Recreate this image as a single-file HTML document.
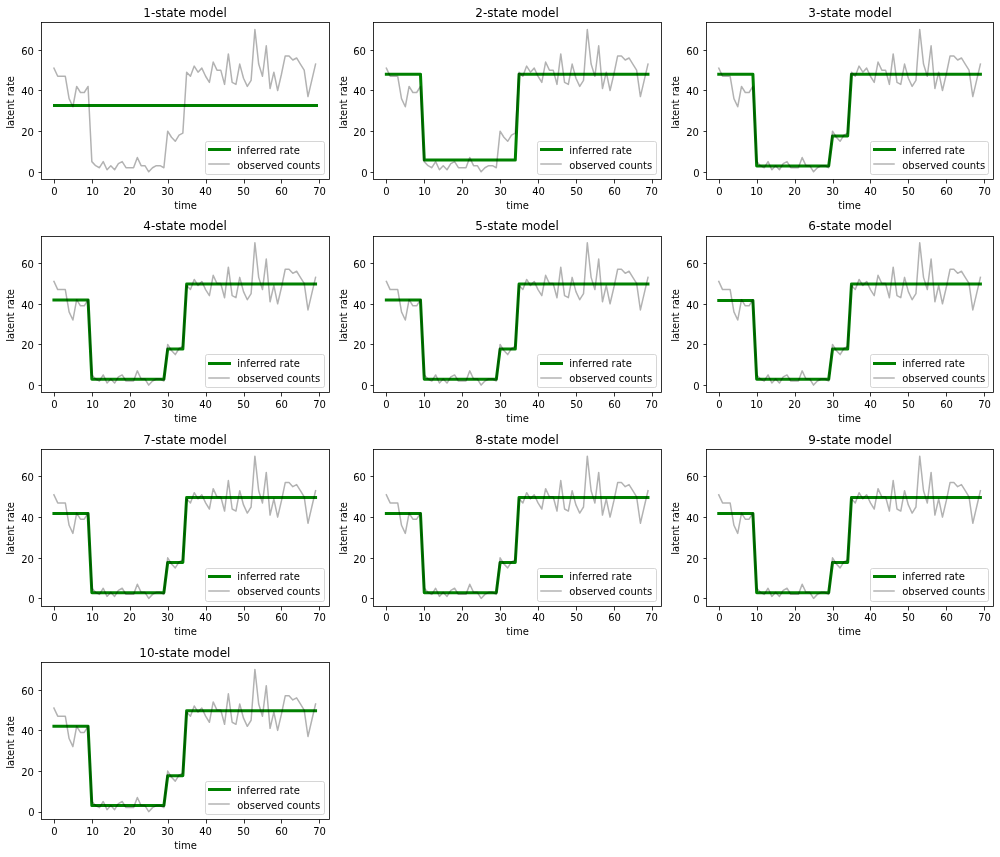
<!DOCTYPE html>
<html lang="en">
<head>
<meta charset="utf-8">
<title>Inferred latent rate for 1- to 10-state models</title>
<style>
html,body{margin:0;padding:0;background:#fff;}
body{width:1000px;height:857px;overflow:hidden;}
svg{display:block;font-family:"DejaVu Sans","Liberation Sans",sans-serif;will-change:transform;}
text{fill:#000;font-size:10px;}
.ttl{font-size:12px;}
.sp{fill:none;stroke:#000;stroke-width:0.8;stroke-linejoin:miter;}
.tk{fill:none;stroke:#000;stroke-width:0.8;}
.inf{fill:none;stroke:#008000;stroke-width:3;stroke-linejoin:round;stroke-linecap:square;}
.obs{fill:none;stroke:#000;stroke-opacity:0.3;stroke-width:1.5;stroke-linejoin:round;stroke-linecap:square;}
.lgf{fill:#fff;fill-opacity:0.8;stroke:#ccc;stroke-opacity:0.8;stroke-width:1;}
</style>
</head>
<body>
<svg width="1000" height="857" viewBox="0 0 1000 857">
<rect x="0" y="0" width="1000" height="857" fill="#fff"/>
<g id="ax1">
<text class="ttl" x="143.25" y="17">1-state model</text>
<path class="inf" d="M54.5 105.5H316.5"/>
<polyline class="obs" points="53.93,68.13 57.72,76.26 61.52,76.26 65.31,76.26 69.1,98.62 72.89,106.75 76.68,86.42 80.47,92.52 84.27,92.52 88.06,86.42 91.85,161.62 95.64,165.69 99.43,167.72 103.23,161.62 107.02,169.75 110.81,165.69 114.6,169.75 118.39,163.66 122.18,161.62 125.98,167.72 129.77,167.72 133.56,167.72 137.35,157.56 141.14,165.69 144.94,165.69 148.73,171.79 152.52,167.72 156.31,165.69 160.1,165.69 163.89,167.72 167.69,131.14 171.48,137.23 175.27,141.3 179.06,135.2 182.85,133.17 186.65,72.2 190.44,76.26 194.23,66.1 198.02,72.2 201.81,68.13 205.61,76.26 209.4,82.36 213.19,62.03 216.98,70.16 220.77,70.16 224.56,84.39 228.36,53.9 232.15,82.36 235.94,84.39 239.73,64.07 243.52,78.29 247.32,86.42 251.11,80.33 254.9,29.51 258.69,64.07 262.48,76.26 266.27,45.77 270.07,88.46 273.86,72.2 277.65,90.49 281.44,74.23 285.23,55.94 289.03,55.94 292.82,60 296.61,57.97 300.4,64.07 304.19,70.16 307.98,96.59 311.78,80.33 315.57,64.07"/>
<path class="tk" d="M54.5 179.5v4M92.5 179.5v4M130.5 179.5v4M168.5 179.5v4M206.5 179.5v4M244.5 179.5v4M281.5 179.5v4M319.5 179.5v4M41.5 172.5h-3M41.5 131.5h-3M41.5 90.5h-3M41.5 50.5h-3"/>
<rect class="sp" x="41.5" y="22.5" width="288" height="157"/>
<text x="51.25" y="195">0</text>
<text x="86.25" y="195">10</text>
<text x="123.25" y="195">20</text>
<text x="161.25" y="195">30</text>
<text x="199.25" y="195">40</text>
<text x="237.25" y="195">50</text>
<text x="275.25" y="195">60</text>
<text x="313.25" y="195">70</text>
<text x="28.25" y="177">0</text>
<text x="21.25" y="136">20</text>
<text x="21.25" y="95">40</text>
<text x="21.25" y="55">60</text>
<text x="174.25" y="209">time</text>
<text transform="translate(14.35 128.75) rotate(-90)">latent rate</text>
<rect class="lgf" x="205.5" y="141.5" width="119" height="33" rx="2" ry="2"/>
<path class="inf" d="M209.5 149.5H229.5"/>
<path class="obs" d="M209 164H229"/>
<text x="237.25" y="154">inferred rate</text>
<text x="237.25" y="169">observed counts</text>
</g>
<g id="ax2">
<text class="ttl" x="475.25" y="17">2-state model</text>
<polyline class="inf" points="386.35,74.15 390.14,74.15 393.93,74.15 397.72,74.15 401.51,74.15 405.31,74.15 409.1,74.15 412.89,74.15 416.68,74.15 420.47,74.15 424.27,160.1 428.06,160.1 431.85,160.1 435.64,160.1 439.43,160.1 443.22,160.1 447.02,160.1 450.81,160.1 454.6,160.1 458.39,160.1 462.18,160.1 465.98,160.1 469.77,160.1 473.56,160.1 477.35,160.1 481.14,160.1 484.93,160.1 488.73,160.1 492.52,160.1 496.31,160.1 500.1,160.1 503.89,160.1 507.69,160.1 511.48,160.1 515.27,160.1 519.06,74.15 522.85,74.15 526.64,74.15 530.44,74.15 534.23,74.15 538.02,74.15 541.81,74.15 545.6,74.15 549.4,74.15 553.19,74.15 556.98,74.15 560.77,74.15 564.56,74.15 568.35,74.15 572.15,74.15 575.94,74.15 579.73,74.15 583.52,74.15 587.31,74.15 591.11,74.15 594.9,74.15 598.69,74.15 602.48,74.15 606.27,74.15 610.06,74.15 613.86,74.15 617.65,74.15 621.44,74.15 625.23,74.15 629.02,74.15 632.82,74.15 636.61,74.15 640.4,74.15 644.19,74.15 647.98,74.15"/>
<polyline class="obs" points="386.35,68.13 390.14,76.26 393.93,76.26 397.72,76.26 401.51,98.62 405.31,106.75 409.1,86.42 412.89,92.52 416.68,92.52 420.47,86.42 424.27,161.62 428.06,165.69 431.85,167.72 435.64,161.62 439.43,169.75 443.22,165.69 447.02,169.75 450.81,163.66 454.6,161.62 458.39,167.72 462.18,167.72 465.98,167.72 469.77,157.56 473.56,165.69 477.35,165.69 481.14,171.79 484.93,167.72 488.73,165.69 492.52,165.69 496.31,167.72 500.1,131.14 503.89,137.23 507.69,141.3 511.48,135.2 515.27,133.17 519.06,72.2 522.85,76.26 526.64,66.1 530.44,72.2 534.23,68.13 538.02,76.26 541.81,82.36 545.6,62.03 549.4,70.16 553.19,70.16 556.98,84.39 560.77,53.9 564.56,82.36 568.35,84.39 572.15,64.07 575.94,78.29 579.73,86.42 583.52,80.33 587.31,29.51 591.11,64.07 594.9,76.26 598.69,45.77 602.48,88.46 606.27,72.2 610.06,90.49 613.86,74.23 617.65,55.94 621.44,55.94 625.23,60 629.02,57.97 632.82,64.07 636.61,70.16 640.4,96.59 644.19,80.33 647.98,64.07"/>
<path class="tk" d="M386.5 179.5v4M424.5 179.5v4M462.5 179.5v4M500.5 179.5v4M538.5 179.5v4M576.5 179.5v4M614.5 179.5v4M652.5 179.5v4M373.5 172.5h-3M373.5 131.5h-3M373.5 90.5h-3M373.5 50.5h-3"/>
<rect class="sp" x="373.5" y="22.5" width="288" height="157"/>
<text x="383.25" y="195">0</text>
<text x="418.25" y="195">10</text>
<text x="456.25" y="195">20</text>
<text x="494.25" y="195">30</text>
<text x="532.25" y="195">40</text>
<text x="570.25" y="195">50</text>
<text x="608.25" y="195">60</text>
<text x="645.25" y="195">70</text>
<text x="361.25" y="177">0</text>
<text x="353.25" y="136">20</text>
<text x="353.25" y="95">40</text>
<text x="353.25" y="55">60</text>
<text x="506.25" y="209">time</text>
<text transform="translate(346.76 128.75) rotate(-90)">latent rate</text>
<rect class="lgf" x="537.5" y="141.5" width="119" height="33" rx="2" ry="2"/>
<path class="inf" d="M541.5 149.5H561.5"/>
<path class="obs" d="M541 164H561"/>
<text x="569.25" y="154">inferred rate</text>
<text x="569.25" y="169">observed counts</text>
</g>
<g id="ax3">
<text class="ttl" x="808.25" y="17">3-state model</text>
<polyline class="inf" points="718.76,74.15 722.55,74.15 726.35,74.15 730.14,74.15 733.93,74.15 737.72,74.15 741.51,74.15 745.3,74.15 749.1,74.15 752.89,74.15 756.68,165.89 760.47,165.89 764.26,165.89 768.06,165.89 771.85,165.89 775.64,165.89 779.43,165.89 783.22,165.89 787.01,165.89 790.81,165.89 794.6,165.89 798.39,165.89 802.18,165.89 805.97,165.89 809.77,165.89 813.56,165.89 817.35,165.89 821.14,165.89 824.93,165.89 828.72,165.89 832.52,136.01 836.31,136.01 840.1,136.01 843.89,136.01 847.68,136.01 851.48,74.15 855.27,74.15 859.06,74.15 862.85,74.15 866.64,74.15 870.44,74.15 874.23,74.15 878.02,74.15 881.81,74.15 885.6,74.15 889.39,74.15 893.19,74.15 896.98,74.15 900.77,74.15 904.56,74.15 908.35,74.15 912.15,74.15 915.94,74.15 919.73,74.15 923.52,74.15 927.31,74.15 931.1,74.15 934.9,74.15 938.69,74.15 942.48,74.15 946.27,74.15 950.06,74.15 953.86,74.15 957.65,74.15 961.44,74.15 965.23,74.15 969.02,74.15 972.81,74.15 976.61,74.15 980.4,74.15"/>
<polyline class="obs" points="718.76,68.13 722.55,76.26 726.35,76.26 730.14,76.26 733.93,98.62 737.72,106.75 741.51,86.42 745.3,92.52 749.1,92.52 752.89,86.42 756.68,161.62 760.47,165.69 764.26,167.72 768.06,161.62 771.85,169.75 775.64,165.69 779.43,169.75 783.22,163.66 787.01,161.62 790.81,167.72 794.6,167.72 798.39,167.72 802.18,157.56 805.97,165.69 809.77,165.69 813.56,171.79 817.35,167.72 821.14,165.69 824.93,165.69 828.72,167.72 832.52,131.14 836.31,137.23 840.1,141.3 843.89,135.2 847.68,133.17 851.48,72.2 855.27,76.26 859.06,66.1 862.85,72.2 866.64,68.13 870.44,76.26 874.23,82.36 878.02,62.03 881.81,70.16 885.6,70.16 889.39,84.39 893.19,53.9 896.98,82.36 900.77,84.39 904.56,64.07 908.35,78.29 912.15,86.42 915.94,80.33 919.73,29.51 923.52,64.07 927.31,76.26 931.1,45.77 934.9,88.46 938.69,72.2 942.48,90.49 946.27,74.23 950.06,55.94 953.86,55.94 957.65,60 961.44,57.97 965.23,64.07 969.02,70.16 972.81,96.59 976.61,80.33 980.4,64.07"/>
<path class="tk" d="M719.5 179.5v4M757.5 179.5v4M795.5 179.5v4M833.5 179.5v4M870.5 179.5v4M908.5 179.5v4M946.5 179.5v4M984.5 179.5v4M706.5 172.5h-3M706.5 131.5h-3M706.5 90.5h-3M706.5 50.5h-3"/>
<rect class="sp" x="706.5" y="22.5" width="287" height="157"/>
<text x="716.25" y="195">0</text>
<text x="750.25" y="195">10</text>
<text x="788.25" y="195">20</text>
<text x="826.25" y="195">30</text>
<text x="864.25" y="195">40</text>
<text x="902.25" y="195">50</text>
<text x="940.25" y="195">60</text>
<text x="978.25" y="195">70</text>
<text x="693.25" y="177">0</text>
<text x="686.25" y="136">20</text>
<text x="686.25" y="95">40</text>
<text x="686.25" y="55">60</text>
<text x="838.25" y="209">time</text>
<text transform="translate(679.17 128.75) rotate(-90)">latent rate</text>
<rect class="lgf" x="870.5" y="141.5" width="118" height="33" rx="2" ry="2"/>
<path class="inf" d="M874.5 149.5H894.5"/>
<path class="obs" d="M874 164H894"/>
<text x="902.25" y="154">inferred rate</text>
<text x="902.25" y="169">observed counts</text>
</g>
<g id="ax4">
<text class="ttl" x="143.25" y="230">4-state model</text>
<polyline class="inf" points="53.93,299.93 57.72,299.93 61.52,299.93 65.31,299.93 69.1,299.93 72.89,299.93 76.68,299.93 80.47,299.93 84.27,299.93 88.06,299.93 91.85,379.29 95.64,379.29 99.43,379.29 103.23,379.29 107.02,379.29 110.81,379.29 114.6,379.29 118.39,379.29 122.18,379.29 125.98,379.29 129.77,379.29 133.56,379.29 137.35,379.29 141.14,379.29 144.94,379.29 148.73,379.29 152.52,379.29 156.31,379.29 160.1,379.29 163.89,379.29 167.69,349.11 171.48,349.11 175.27,349.11 179.06,349.11 182.85,349.11 186.65,284.07 190.44,284.07 194.23,284.07 198.02,284.07 201.81,284.07 205.61,284.07 209.4,284.07 213.19,284.07 216.98,284.07 220.77,284.07 224.56,284.07 228.36,284.07 232.15,284.07 235.94,284.07 239.73,284.07 243.52,284.07 247.32,284.07 251.11,284.07 254.9,284.07 258.69,284.07 262.48,284.07 266.27,284.07 270.07,284.07 273.86,284.07 277.65,284.07 281.44,284.07 285.23,284.07 289.03,284.07 292.82,284.07 296.61,284.07 300.4,284.07 304.19,284.07 307.98,284.07 311.78,284.07 315.57,284.07"/>
<polyline class="obs" points="53.93,281.43 57.72,289.56 61.52,289.56 65.31,289.56 69.1,311.92 72.89,320.05 76.68,299.72 80.47,305.82 84.27,305.82 88.06,299.72 91.85,374.92 95.64,378.99 99.43,381.02 103.23,374.92 107.02,383.05 110.81,378.99 114.6,383.05 118.39,376.96 122.18,374.92 125.98,381.02 129.77,381.02 133.56,381.02 137.35,370.86 141.14,378.99 144.94,378.99 148.73,385.09 152.52,381.02 156.31,378.99 160.1,378.99 163.89,381.02 167.69,344.44 171.48,350.53 175.27,354.6 179.06,348.5 182.85,346.47 186.65,285.5 190.44,289.56 194.23,279.4 198.02,285.5 201.81,281.43 205.61,289.56 209.4,295.66 213.19,275.33 216.98,283.46 220.77,283.46 224.56,297.69 228.36,267.2 232.15,295.66 235.94,297.69 239.73,277.37 243.52,291.59 247.32,299.72 251.11,293.63 254.9,242.81 258.69,277.37 262.48,289.56 266.27,259.07 270.07,301.76 273.86,285.5 277.65,303.79 281.44,287.53 285.23,269.24 289.03,269.24 292.82,273.3 296.61,271.27 300.4,277.37 304.19,283.46 307.98,309.89 311.78,293.63 315.57,277.37"/>
<path class="tk" d="M54.5 392.5v4M92.5 392.5v4M130.5 392.5v4M168.5 392.5v4M206.5 392.5v4M244.5 392.5v4M281.5 392.5v4M319.5 392.5v4M41.5 385.5h-3M41.5 344.5h-3M41.5 304.5h-3M41.5 263.5h-3"/>
<rect class="sp" x="41.5" y="236.5" width="288" height="156"/>
<text x="51.25" y="408">0</text>
<text x="86.25" y="408">10</text>
<text x="123.25" y="408">20</text>
<text x="161.25" y="408">30</text>
<text x="199.25" y="408">40</text>
<text x="237.25" y="408">50</text>
<text x="275.25" y="408">60</text>
<text x="313.25" y="408">70</text>
<text x="28.25" y="390">0</text>
<text x="21.25" y="349">20</text>
<text x="21.25" y="309">40</text>
<text x="21.25" y="268">60</text>
<text x="174.25" y="422">time</text>
<text transform="translate(14.35 341.75) rotate(-90)">latent rate</text>
<rect class="lgf" x="205.5" y="354.5" width="119" height="33" rx="2" ry="2"/>
<path class="inf" d="M209.5 363.5H229.5"/>
<path class="obs" d="M209 378H229"/>
<text x="237.25" y="367">inferred rate</text>
<text x="237.25" y="382">observed counts</text>
</g>
<g id="ax5">
<text class="ttl" x="475.25" y="230">5-state model</text>
<polyline class="inf" points="386.35,299.93 390.14,299.93 393.93,299.93 397.72,299.93 401.51,299.93 405.31,299.93 409.1,299.93 412.89,299.93 416.68,299.93 420.47,299.93 424.27,379.29 428.06,379.29 431.85,379.29 435.64,379.29 439.43,379.29 443.22,379.29 447.02,379.29 450.81,379.29 454.6,379.29 458.39,379.29 462.18,379.29 465.98,379.29 469.77,379.29 473.56,379.29 477.35,379.29 481.14,379.29 484.93,379.29 488.73,379.29 492.52,379.29 496.31,379.29 500.1,349.11 503.89,349.11 507.69,349.11 511.48,349.11 515.27,349.11 519.06,284.07 522.85,284.07 526.64,284.07 530.44,284.07 534.23,284.07 538.02,284.07 541.81,284.07 545.6,284.07 549.4,284.07 553.19,284.07 556.98,284.07 560.77,284.07 564.56,284.07 568.35,284.07 572.15,284.07 575.94,284.07 579.73,284.07 583.52,284.07 587.31,284.07 591.11,284.07 594.9,284.07 598.69,284.07 602.48,284.07 606.27,284.07 610.06,284.07 613.86,284.07 617.65,284.07 621.44,284.07 625.23,284.07 629.02,284.07 632.82,284.07 636.61,284.07 640.4,284.07 644.19,284.07 647.98,284.07"/>
<polyline class="obs" points="386.35,281.43 390.14,289.56 393.93,289.56 397.72,289.56 401.51,311.92 405.31,320.05 409.1,299.72 412.89,305.82 416.68,305.82 420.47,299.72 424.27,374.92 428.06,378.99 431.85,381.02 435.64,374.92 439.43,383.05 443.22,378.99 447.02,383.05 450.81,376.96 454.6,374.92 458.39,381.02 462.18,381.02 465.98,381.02 469.77,370.86 473.56,378.99 477.35,378.99 481.14,385.09 484.93,381.02 488.73,378.99 492.52,378.99 496.31,381.02 500.1,344.44 503.89,350.53 507.69,354.6 511.48,348.5 515.27,346.47 519.06,285.5 522.85,289.56 526.64,279.4 530.44,285.5 534.23,281.43 538.02,289.56 541.81,295.66 545.6,275.33 549.4,283.46 553.19,283.46 556.98,297.69 560.77,267.2 564.56,295.66 568.35,297.69 572.15,277.37 575.94,291.59 579.73,299.72 583.52,293.63 587.31,242.81 591.11,277.37 594.9,289.56 598.69,259.07 602.48,301.76 606.27,285.5 610.06,303.79 613.86,287.53 617.65,269.24 621.44,269.24 625.23,273.3 629.02,271.27 632.82,277.37 636.61,283.46 640.4,309.89 644.19,293.63 647.98,277.37"/>
<path class="tk" d="M386.5 392.5v4M424.5 392.5v4M462.5 392.5v4M500.5 392.5v4M538.5 392.5v4M576.5 392.5v4M614.5 392.5v4M652.5 392.5v4M373.5 385.5h-3M373.5 344.5h-3M373.5 304.5h-3M373.5 263.5h-3"/>
<rect class="sp" x="373.5" y="236.5" width="288" height="156"/>
<text x="383.25" y="408">0</text>
<text x="418.25" y="408">10</text>
<text x="456.25" y="408">20</text>
<text x="494.25" y="408">30</text>
<text x="532.25" y="408">40</text>
<text x="570.25" y="408">50</text>
<text x="608.25" y="408">60</text>
<text x="645.25" y="408">70</text>
<text x="361.25" y="390">0</text>
<text x="353.25" y="349">20</text>
<text x="353.25" y="309">40</text>
<text x="353.25" y="268">60</text>
<text x="506.25" y="422">time</text>
<text transform="translate(346.76 341.75) rotate(-90)">latent rate</text>
<rect class="lgf" x="537.5" y="354.5" width="119" height="33" rx="2" ry="2"/>
<path class="inf" d="M541.5 363.5H561.5"/>
<path class="obs" d="M541 378H561"/>
<text x="569.25" y="367">inferred rate</text>
<text x="569.25" y="382">observed counts</text>
</g>
<g id="ax6">
<text class="ttl" x="808.25" y="230">6-state model</text>
<polyline class="inf" points="718.76,300.43 722.55,300.43 726.35,300.43 730.14,300.43 733.93,300.43 737.72,300.43 741.51,300.43 745.3,300.43 749.1,300.43 752.89,300.43 756.68,379.29 760.47,379.29 764.26,379.29 768.06,379.29 771.85,379.29 775.64,379.29 779.43,379.29 783.22,379.29 787.01,379.29 790.81,379.29 794.6,379.29 798.39,379.29 802.18,379.29 805.97,379.29 809.77,379.29 813.56,379.29 817.35,379.29 821.14,379.29 824.93,379.29 828.72,379.29 832.52,349.11 836.31,349.11 840.1,349.11 843.89,349.11 847.68,349.11 851.48,284.07 855.27,284.07 859.06,284.07 862.85,284.07 866.64,284.07 870.44,284.07 874.23,284.07 878.02,284.07 881.81,284.07 885.6,284.07 889.39,284.07 893.19,284.07 896.98,284.07 900.77,284.07 904.56,284.07 908.35,284.07 912.15,284.07 915.94,284.07 919.73,284.07 923.52,284.07 927.31,284.07 931.1,284.07 934.9,284.07 938.69,284.07 942.48,284.07 946.27,284.07 950.06,284.07 953.86,284.07 957.65,284.07 961.44,284.07 965.23,284.07 969.02,284.07 972.81,284.07 976.61,284.07 980.4,284.07"/>
<polyline class="obs" points="718.76,281.43 722.55,289.56 726.35,289.56 730.14,289.56 733.93,311.92 737.72,320.05 741.51,299.72 745.3,305.82 749.1,305.82 752.89,299.72 756.68,374.92 760.47,378.99 764.26,381.02 768.06,374.92 771.85,383.05 775.64,378.99 779.43,383.05 783.22,376.96 787.01,374.92 790.81,381.02 794.6,381.02 798.39,381.02 802.18,370.86 805.97,378.99 809.77,378.99 813.56,385.09 817.35,381.02 821.14,378.99 824.93,378.99 828.72,381.02 832.52,344.44 836.31,350.53 840.1,354.6 843.89,348.5 847.68,346.47 851.48,285.5 855.27,289.56 859.06,279.4 862.85,285.5 866.64,281.43 870.44,289.56 874.23,295.66 878.02,275.33 881.81,283.46 885.6,283.46 889.39,297.69 893.19,267.2 896.98,295.66 900.77,297.69 904.56,277.37 908.35,291.59 912.15,299.72 915.94,293.63 919.73,242.81 923.52,277.37 927.31,289.56 931.1,259.07 934.9,301.76 938.69,285.5 942.48,303.79 946.27,287.53 950.06,269.24 953.86,269.24 957.65,273.3 961.44,271.27 965.23,277.37 969.02,283.46 972.81,309.89 976.61,293.63 980.4,277.37"/>
<path class="tk" d="M719.5 392.5v4M757.5 392.5v4M795.5 392.5v4M833.5 392.5v4M870.5 392.5v4M908.5 392.5v4M946.5 392.5v4M984.5 392.5v4M706.5 385.5h-3M706.5 344.5h-3M706.5 304.5h-3M706.5 263.5h-3"/>
<rect class="sp" x="706.5" y="236.5" width="287" height="156"/>
<text x="716.25" y="408">0</text>
<text x="750.25" y="408">10</text>
<text x="788.25" y="408">20</text>
<text x="826.25" y="408">30</text>
<text x="864.25" y="408">40</text>
<text x="902.25" y="408">50</text>
<text x="940.25" y="408">60</text>
<text x="978.25" y="408">70</text>
<text x="693.25" y="390">0</text>
<text x="686.25" y="349">20</text>
<text x="686.25" y="309">40</text>
<text x="686.25" y="268">60</text>
<text x="838.25" y="422">time</text>
<text transform="translate(679.17 341.75) rotate(-90)">latent rate</text>
<rect class="lgf" x="870.5" y="354.5" width="118" height="33" rx="2" ry="2"/>
<path class="inf" d="M874.5 363.5H894.5"/>
<path class="obs" d="M874 378H894"/>
<text x="902.25" y="367">inferred rate</text>
<text x="902.25" y="382">observed counts</text>
</g>
<g id="ax7">
<text class="ttl" x="143.25" y="444">7-state model</text>
<polyline class="inf" points="53.93,513.58 57.72,513.58 61.52,513.58 65.31,513.58 69.1,513.58 72.89,513.58 76.68,513.58 80.47,513.58 84.27,513.58 88.06,513.58 91.85,592.64 95.64,592.64 99.43,592.64 103.23,592.64 107.02,592.64 110.81,592.64 114.6,592.64 118.39,592.64 122.18,592.64 125.98,592.64 129.77,592.64 133.56,592.64 137.35,592.64 141.14,592.64 144.94,592.64 148.73,592.64 152.52,592.64 156.31,592.64 160.1,592.64 163.89,592.64 167.69,562.46 171.48,562.46 175.27,562.46 179.06,562.46 182.85,562.46 186.65,497.42 190.44,497.42 194.23,497.42 198.02,497.42 201.81,497.42 205.61,497.42 209.4,497.42 213.19,497.42 216.98,497.42 220.77,497.42 224.56,497.42 228.36,497.42 232.15,497.42 235.94,497.42 239.73,497.42 243.52,497.42 247.32,497.42 251.11,497.42 254.9,497.42 258.69,497.42 262.48,497.42 266.27,497.42 270.07,497.42 273.86,497.42 277.65,497.42 281.44,497.42 285.23,497.42 289.03,497.42 292.82,497.42 296.61,497.42 300.4,497.42 304.19,497.42 307.98,497.42 311.78,497.42 315.57,497.42"/>
<polyline class="obs" points="53.93,494.78 57.72,502.91 61.52,502.91 65.31,502.91 69.1,525.27 72.89,533.4 76.68,513.07 80.47,519.17 84.27,519.17 88.06,513.07 91.85,588.27 95.64,592.34 99.43,594.37 103.23,588.27 107.02,596.4 110.81,592.34 114.6,596.4 118.39,590.31 122.18,588.27 125.98,594.37 129.77,594.37 133.56,594.37 137.35,584.21 141.14,592.34 144.94,592.34 148.73,598.44 152.52,594.37 156.31,592.34 160.1,592.34 163.89,594.37 167.69,557.79 171.48,563.88 175.27,567.95 179.06,561.85 182.85,559.82 186.65,498.85 190.44,502.91 194.23,492.75 198.02,498.85 201.81,494.78 205.61,502.91 209.4,509.01 213.19,488.68 216.98,496.81 220.77,496.81 224.56,511.04 228.36,480.55 232.15,509.01 235.94,511.04 239.73,490.72 243.52,504.94 247.32,513.07 251.11,506.98 254.9,456.16 258.69,490.72 262.48,502.91 266.27,472.42 270.07,515.11 273.86,498.85 277.65,517.14 281.44,500.88 285.23,482.59 289.03,482.59 292.82,486.65 296.61,484.62 300.4,490.72 304.19,496.81 307.98,523.24 311.78,506.98 315.57,490.72"/>
<path class="tk" d="M54.5 606.5v4M92.5 606.5v4M130.5 606.5v4M168.5 606.5v4M206.5 606.5v4M244.5 606.5v4M281.5 606.5v4M319.5 606.5v4M41.5 598.5h-3M41.5 558.5h-3M41.5 517.5h-3M41.5 476.5h-3"/>
<rect class="sp" x="41.5" y="449.5" width="288" height="157"/>
<text x="51.25" y="621">0</text>
<text x="86.25" y="621">10</text>
<text x="123.25" y="621">20</text>
<text x="161.25" y="621">30</text>
<text x="199.25" y="621">40</text>
<text x="237.25" y="621">50</text>
<text x="275.25" y="621">60</text>
<text x="313.25" y="621">70</text>
<text x="28.25" y="603">0</text>
<text x="21.25" y="563">20</text>
<text x="21.25" y="522">40</text>
<text x="21.25" y="481">60</text>
<text x="174.25" y="635">time</text>
<text transform="translate(14.35 554.75) rotate(-90)">latent rate</text>
<rect class="lgf" x="205.5" y="568.5" width="119" height="33" rx="2" ry="2"/>
<path class="inf" d="M209.5 576.5H229.5"/>
<path class="obs" d="M209 591H229"/>
<text x="237.25" y="580">inferred rate</text>
<text x="237.25" y="595">observed counts</text>
</g>
<g id="ax8">
<text class="ttl" x="475.25" y="444">8-state model</text>
<polyline class="inf" points="386.35,513.38 390.14,513.38 393.93,513.38 397.72,513.38 401.51,513.38 405.31,513.38 409.1,513.38 412.89,513.38 416.68,513.38 420.47,513.38 424.27,592.64 428.06,592.64 431.85,592.64 435.64,592.64 439.43,592.64 443.22,592.64 447.02,592.64 450.81,592.64 454.6,592.64 458.39,592.64 462.18,592.64 465.98,592.64 469.77,592.64 473.56,592.64 477.35,592.64 481.14,592.64 484.93,592.64 488.73,592.64 492.52,592.64 496.31,592.64 500.1,562.46 503.89,562.46 507.69,562.46 511.48,562.46 515.27,562.46 519.06,497.42 522.85,497.42 526.64,497.42 530.44,497.42 534.23,497.42 538.02,497.42 541.81,497.42 545.6,497.42 549.4,497.42 553.19,497.42 556.98,497.42 560.77,497.42 564.56,497.42 568.35,497.42 572.15,497.42 575.94,497.42 579.73,497.42 583.52,497.42 587.31,497.42 591.11,497.42 594.9,497.42 598.69,497.42 602.48,497.42 606.27,497.42 610.06,497.42 613.86,497.42 617.65,497.42 621.44,497.42 625.23,497.42 629.02,497.42 632.82,497.42 636.61,497.42 640.4,497.42 644.19,497.42 647.98,497.42"/>
<polyline class="obs" points="386.35,494.78 390.14,502.91 393.93,502.91 397.72,502.91 401.51,525.27 405.31,533.4 409.1,513.07 412.89,519.17 416.68,519.17 420.47,513.07 424.27,588.27 428.06,592.34 431.85,594.37 435.64,588.27 439.43,596.4 443.22,592.34 447.02,596.4 450.81,590.31 454.6,588.27 458.39,594.37 462.18,594.37 465.98,594.37 469.77,584.21 473.56,592.34 477.35,592.34 481.14,598.44 484.93,594.37 488.73,592.34 492.52,592.34 496.31,594.37 500.1,557.79 503.89,563.88 507.69,567.95 511.48,561.85 515.27,559.82 519.06,498.85 522.85,502.91 526.64,492.75 530.44,498.85 534.23,494.78 538.02,502.91 541.81,509.01 545.6,488.68 549.4,496.81 553.19,496.81 556.98,511.04 560.77,480.55 564.56,509.01 568.35,511.04 572.15,490.72 575.94,504.94 579.73,513.07 583.52,506.98 587.31,456.16 591.11,490.72 594.9,502.91 598.69,472.42 602.48,515.11 606.27,498.85 610.06,517.14 613.86,500.88 617.65,482.59 621.44,482.59 625.23,486.65 629.02,484.62 632.82,490.72 636.61,496.81 640.4,523.24 644.19,506.98 647.98,490.72"/>
<path class="tk" d="M386.5 606.5v4M424.5 606.5v4M462.5 606.5v4M500.5 606.5v4M538.5 606.5v4M576.5 606.5v4M614.5 606.5v4M652.5 606.5v4M373.5 598.5h-3M373.5 558.5h-3M373.5 517.5h-3M373.5 476.5h-3"/>
<rect class="sp" x="373.5" y="449.5" width="288" height="157"/>
<text x="383.25" y="621">0</text>
<text x="418.25" y="621">10</text>
<text x="456.25" y="621">20</text>
<text x="494.25" y="621">30</text>
<text x="532.25" y="621">40</text>
<text x="570.25" y="621">50</text>
<text x="608.25" y="621">60</text>
<text x="645.25" y="621">70</text>
<text x="361.25" y="603">0</text>
<text x="353.25" y="563">20</text>
<text x="353.25" y="522">40</text>
<text x="353.25" y="481">60</text>
<text x="506.25" y="635">time</text>
<text transform="translate(346.76 554.75) rotate(-90)">latent rate</text>
<rect class="lgf" x="537.5" y="568.5" width="119" height="33" rx="2" ry="2"/>
<path class="inf" d="M541.5 576.5H561.5"/>
<path class="obs" d="M541 591H561"/>
<text x="569.25" y="580">inferred rate</text>
<text x="569.25" y="595">observed counts</text>
</g>
<g id="ax9">
<text class="ttl" x="808.25" y="444">9-state model</text>
<polyline class="inf" points="718.76,513.38 722.55,513.38 726.35,513.38 730.14,513.38 733.93,513.38 737.72,513.38 741.51,513.38 745.3,513.38 749.1,513.38 752.89,513.38 756.68,592.64 760.47,592.64 764.26,592.64 768.06,592.64 771.85,592.64 775.64,592.64 779.43,592.64 783.22,592.64 787.01,592.64 790.81,592.64 794.6,592.64 798.39,592.64 802.18,592.64 805.97,592.64 809.77,592.64 813.56,592.64 817.35,592.64 821.14,592.64 824.93,592.64 828.72,592.64 832.52,562.46 836.31,562.46 840.1,562.46 843.89,562.46 847.68,562.46 851.48,497.42 855.27,497.42 859.06,497.42 862.85,497.42 866.64,497.42 870.44,497.42 874.23,497.42 878.02,497.42 881.81,497.42 885.6,497.42 889.39,497.42 893.19,497.42 896.98,497.42 900.77,497.42 904.56,497.42 908.35,497.42 912.15,497.42 915.94,497.42 919.73,497.42 923.52,497.42 927.31,497.42 931.1,497.42 934.9,497.42 938.69,497.42 942.48,497.42 946.27,497.42 950.06,497.42 953.86,497.42 957.65,497.42 961.44,497.42 965.23,497.42 969.02,497.42 972.81,497.42 976.61,497.42 980.4,497.42"/>
<polyline class="obs" points="718.76,494.78 722.55,502.91 726.35,502.91 730.14,502.91 733.93,525.27 737.72,533.4 741.51,513.07 745.3,519.17 749.1,519.17 752.89,513.07 756.68,588.27 760.47,592.34 764.26,594.37 768.06,588.27 771.85,596.4 775.64,592.34 779.43,596.4 783.22,590.31 787.01,588.27 790.81,594.37 794.6,594.37 798.39,594.37 802.18,584.21 805.97,592.34 809.77,592.34 813.56,598.44 817.35,594.37 821.14,592.34 824.93,592.34 828.72,594.37 832.52,557.79 836.31,563.88 840.1,567.95 843.89,561.85 847.68,559.82 851.48,498.85 855.27,502.91 859.06,492.75 862.85,498.85 866.64,494.78 870.44,502.91 874.23,509.01 878.02,488.68 881.81,496.81 885.6,496.81 889.39,511.04 893.19,480.55 896.98,509.01 900.77,511.04 904.56,490.72 908.35,504.94 912.15,513.07 915.94,506.98 919.73,456.16 923.52,490.72 927.31,502.91 931.1,472.42 934.9,515.11 938.69,498.85 942.48,517.14 946.27,500.88 950.06,482.59 953.86,482.59 957.65,486.65 961.44,484.62 965.23,490.72 969.02,496.81 972.81,523.24 976.61,506.98 980.4,490.72"/>
<path class="tk" d="M719.5 606.5v4M757.5 606.5v4M795.5 606.5v4M833.5 606.5v4M870.5 606.5v4M908.5 606.5v4M946.5 606.5v4M984.5 606.5v4M706.5 598.5h-3M706.5 558.5h-3M706.5 517.5h-3M706.5 476.5h-3"/>
<rect class="sp" x="706.5" y="449.5" width="287" height="157"/>
<text x="716.25" y="621">0</text>
<text x="750.25" y="621">10</text>
<text x="788.25" y="621">20</text>
<text x="826.25" y="621">30</text>
<text x="864.25" y="621">40</text>
<text x="902.25" y="621">50</text>
<text x="940.25" y="621">60</text>
<text x="978.25" y="621">70</text>
<text x="693.25" y="603">0</text>
<text x="686.25" y="563">20</text>
<text x="686.25" y="522">40</text>
<text x="686.25" y="481">60</text>
<text x="838.25" y="635">time</text>
<text transform="translate(679.17 554.75) rotate(-90)">latent rate</text>
<rect class="lgf" x="870.5" y="568.5" width="118" height="33" rx="2" ry="2"/>
<path class="inf" d="M874.5 576.5H894.5"/>
<path class="obs" d="M874 591H894"/>
<text x="902.25" y="580">inferred rate</text>
<text x="902.25" y="595">observed counts</text>
</g>
<g id="ax10">
<text class="ttl" x="139.25" y="657">10-state model</text>
<polyline class="inf" points="53.93,726.32 57.72,726.32 61.52,726.32 65.31,726.32 69.1,726.32 72.89,726.32 76.68,726.32 80.47,726.32 84.27,726.32 88.06,726.32 91.85,805.59 95.64,805.59 99.43,805.59 103.23,805.59 107.02,805.59 110.81,805.59 114.6,805.59 118.39,805.59 122.18,805.59 125.98,805.59 129.77,805.59 133.56,805.59 137.35,805.59 141.14,805.59 144.94,805.59 148.73,805.59 152.52,805.59 156.31,805.59 160.1,805.59 163.89,805.59 167.69,775.71 171.48,775.71 175.27,775.71 179.06,775.71 182.85,775.71 186.65,710.67 190.44,710.67 194.23,710.67 198.02,710.67 201.81,710.67 205.61,710.67 209.4,710.67 213.19,710.67 216.98,710.67 220.77,710.67 224.56,710.67 228.36,710.67 232.15,710.67 235.94,710.67 239.73,710.67 243.52,710.67 247.32,710.67 251.11,710.67 254.9,710.67 258.69,710.67 262.48,710.67 266.27,710.67 270.07,710.67 273.86,710.67 277.65,710.67 281.44,710.67 285.23,710.67 289.03,710.67 292.82,710.67 296.61,710.67 300.4,710.67 304.19,710.67 307.98,710.67 311.78,710.67 315.57,710.67"/>
<polyline class="obs" points="53.93,708.03 57.72,716.16 61.52,716.16 65.31,716.16 69.1,738.52 72.89,746.65 76.68,726.32 80.47,732.42 84.27,732.42 88.06,726.32 91.85,801.52 95.64,805.59 99.43,807.62 103.23,801.52 107.02,809.65 110.81,805.59 114.6,809.65 118.39,803.56 122.18,801.52 125.98,807.62 129.77,807.62 133.56,807.62 137.35,797.46 141.14,805.59 144.94,805.59 148.73,811.69 152.52,807.62 156.31,805.59 160.1,805.59 163.89,807.62 167.69,771.04 171.48,777.13 175.27,781.2 179.06,775.1 182.85,773.07 186.65,712.1 190.44,716.16 194.23,706 198.02,712.1 201.81,708.03 205.61,716.16 209.4,722.26 213.19,701.93 216.98,710.06 220.77,710.06 224.56,724.29 228.36,693.8 232.15,722.26 235.94,724.29 239.73,703.97 243.52,718.19 247.32,726.32 251.11,720.23 254.9,669.41 258.69,703.97 262.48,716.16 266.27,685.67 270.07,728.36 273.86,712.1 277.65,730.39 281.44,714.13 285.23,695.84 289.03,695.84 292.82,699.9 296.61,697.87 300.4,703.97 304.19,710.06 307.98,736.49 311.78,720.23 315.57,703.97"/>
<path class="tk" d="M54.5 819.5v4M92.5 819.5v4M130.5 819.5v4M168.5 819.5v4M206.5 819.5v4M244.5 819.5v4M281.5 819.5v4M319.5 819.5v4M41.5 812.5h-3M41.5 771.5h-3M41.5 730.5h-3M41.5 690.5h-3"/>
<rect class="sp" x="41.5" y="662.5" width="288" height="157"/>
<text x="51.25" y="835">0</text>
<text x="86.25" y="835">10</text>
<text x="123.25" y="835">20</text>
<text x="161.25" y="835">30</text>
<text x="199.25" y="835">40</text>
<text x="237.25" y="835">50</text>
<text x="275.25" y="835">60</text>
<text x="313.25" y="835">70</text>
<text x="28.25" y="816">0</text>
<text x="21.25" y="776">20</text>
<text x="21.25" y="735">40</text>
<text x="21.25" y="695">60</text>
<text x="174.25" y="849">time</text>
<text transform="translate(14.35 768.75) rotate(-90)">latent rate</text>
<rect class="lgf" x="205.5" y="781.5" width="119" height="33" rx="2" ry="2"/>
<path class="inf" d="M209.5 789.5H229.5"/>
<path class="obs" d="M209 804H229"/>
<text x="237.25" y="794">inferred rate</text>
<text x="237.25" y="809">observed counts</text>
</g>
</svg>
</body>
</html>
